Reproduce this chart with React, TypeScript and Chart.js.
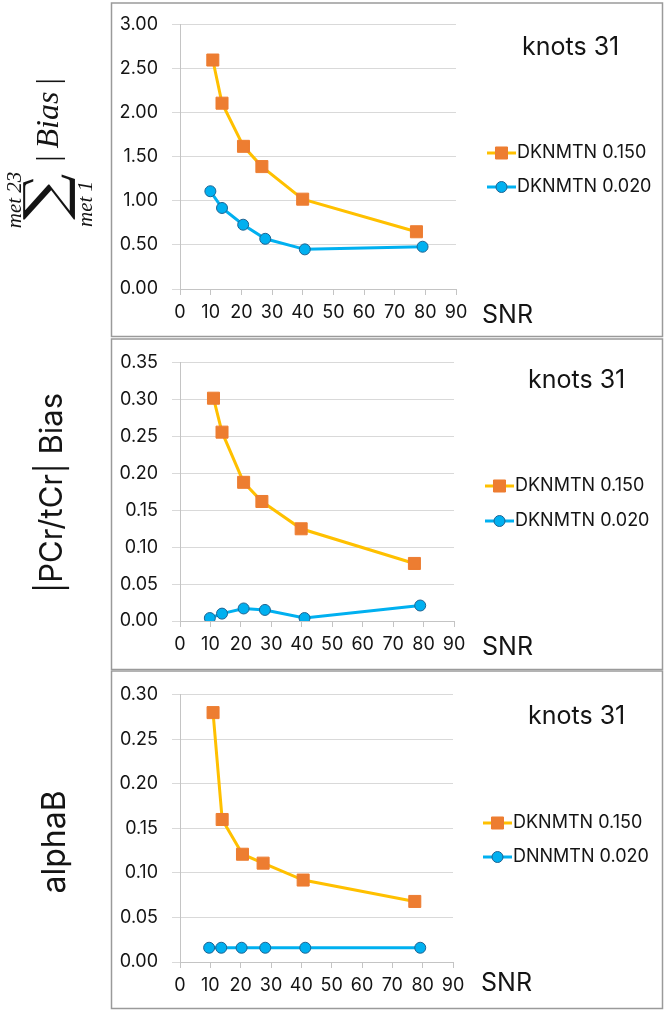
import React, { useEffect, useRef } from 'react';
import { Chart, registerables } from 'chart.js';
Chart.register(...registerables);

// ---------------- data ----------------
const X_LABEL = 'SNR';
const PANEL_TAG = 'knots 31';
const NAME_A = 'DKNMTN 0.150';
const NAME_B = 'DKNMTN 0.020';
const NAME_B_P3 = 'DNNMTN 0.020';
const Y_TITLE_2 = '|PCr/tCr| Bias';
const Y_TITLE_3 = 'alphaB';

const xTickValues = [0, 10, 20, 30, 40, 50, 60, 70, 80, 90];

const p1SnrA = [10.7, 13.7, 20.7, 26.7, 40.0, 77.1];
const p1ValA = [2.6, 2.11, 1.62, 1.39, 1.02, 0.65];
const p1SnrB = [9.9, 13.7, 20.6, 27.8, 40.7, 79.1];
const p1ValB = [1.11, 0.92, 0.73, 0.57, 0.45, 0.48];
const p1YTicks = [0, 0.5, 1.0, 1.5, 2.0, 2.5, 3.0];

const p2SnrA = [11.0, 13.8, 20.9, 26.9, 39.8, 77.0];
const p2ValA = [0.302, 0.256, 0.188, 0.162, 0.125, 0.078];
const p2SnrB = [9.8, 13.8, 20.9, 27.9, 40.9, 78.9];
const p2ValB = [0.004, 0.01, 0.017, 0.015, 0.004, 0.021];
const p2YTicks = [0, 0.05, 0.1, 0.15, 0.2, 0.25, 0.3, 0.35];

const p3SnrA = [10.9, 13.9, 20.6, 27.4, 40.6, 77.4];
const p3ValA = [0.28, 0.16, 0.121, 0.111, 0.092, 0.068];
const p3SnrB = [9.6, 13.6, 20.3, 28.1, 41.3, 79.2];
const p3ValB = [0.016, 0.016, 0.016, 0.016, 0.016, 0.016];
const p3YTicks = [0, 0.05, 0.1, 0.15, 0.2, 0.25, 0.3];

// ---------------- styles ----------------
const FONT = 'Inter, "Open Sans", sans-serif';
const SERIF = '"Liberation Serif", "DejaVu Serif", serif';
const TEXT = '#141414';
const ORANGE_LINE = '#FFC000';
const ORANGE_MARK = '#ED7D31';
const BLUE = '#00B0F0';
const BLUE_EDGE = '#1F6391';
const GRID = '#d9d9d9';
const AXIS = '#c4c4c4';
const BOX = '#9a9a9a';

const zip = (xs: number[], ys: number[]) => xs.map((x, i) => ({ x, y: ys[i] }));

type PanelCfg = {
  top: number;
  height: number;
  padTop: number;
  padRight: number;
  boxTop: number;
  boxBottom: number;
  tagX: number;
  tagY: number;
  snrX: number;
  snrY: number;
  legX: number;
  legY: number[];
  yMax: number;
  yTicks: number[];
  a: { x: number; y: number }[];
  b: { x: number; y: number }[];
  nameB: string;
  yTitle: (ctx: CanvasRenderingContext2D) => void;
};

function drawFormula(ctx: CanvasRenderingContext2D) {
  ctx.save();
  const Y0 = 240;
  ctx.translate(0, Y0);
  ctx.rotate(-Math.PI / 2);
  ctx.fillStyle = TEXT;
  ctx.textBaseline = 'alphabetic';
  // big sigma
  const sig = '\u2211';
  let fs = 50;
  ctx.font = `${fs}px "DejaVu Serif", serif`;
  let m = ctx.measureText(sig);
  let h = m.actualBoundingBoxAscent + m.actualBoundingBoxDescent;
  fs = (fs * 52) / h;
  ctx.font = `${fs}px "DejaVu Serif", serif`;
  m = ctx.measureText(sig);
  const w = m.actualBoundingBoxLeft + m.actualBoundingBoxRight;
  ctx.save();
  ctx.translate(20, 23);
  ctx.scale(46 / w, 1);
  ctx.textAlign = 'left';
  ctx.fillText(sig, m.actualBoundingBoxLeft, m.actualBoundingBoxAscent);
  ctx.restore();
  // limits
  ctx.font = `italic 21px ${SERIF}`;
  ctx.textAlign = 'center';
  ctx.fillText('met 23', 40, 21);
  ctx.fillText('met 1', 36, 92);
  // |Bias|
  ctx.textAlign = 'left';
  const bar = '|';
  ctx.font = `32px ${SERIF}`;
  const bw = ctx.measureText(bar).width;
  ctx.font = `italic 32px ${SERIF}`;
  const biasW = ctx.measureText('Bias').width;
  const gap = 7;
  const total = bw * 2 + gap * 2 + biasW;
  let u = 120 - total / 2;
  ctx.font = `32px ${SERIF}`;
  ctx.fillText(bar, u, 58);
  u += bw + gap;
  ctx.font = `italic 32px ${SERIF}`;
  ctx.fillText('Bias', u, 58);
  u += biasW + gap;
  ctx.font = `32px ${SERIF}`;
  ctx.fillText(bar, u, 58);
  ctx.restore();
}

function rotatedTitle(text: string, cx: number, cy: number, size: number) {
  return (ctx: CanvasRenderingContext2D) => {
    ctx.save();
    ctx.translate(cx, cy);
    ctx.rotate(-Math.PI / 2);
    ctx.font = `${size}px ${FONT}`;
    ctx.fillStyle = TEXT;
    ctx.textAlign = 'center';
    ctx.textBaseline = 'alphabetic';
    ctx.fillText(text, 0, 0);
    ctx.restore();
  };
}

const panels: PanelCfg[] = [
  {
    top: 0, height: 338, padTop: 23, padRight: 209, boxTop: 3, boxBottom: 336.5,
    tagX: 522, tagY: 47, snrX: 482, snrY: 315, legX: 487, legY: [153, 187],
    yMax: 3, yTicks: p1YTicks, a: zip(p1SnrA, p1ValA), b: zip(p1SnrB, p1ValB), nameB: NAME_B,
    yTitle: drawFormula,
  },
  {
    top: 338, height: 332, padTop: 19, padRight: 211, boxTop: 1, boxBottom: 331.5,
    tagX: 528, tagY: 42, snrX: 482, snrY: 309, legX: 485, legY: [148, 183],
    yMax: 0.35, yTicks: p2YTicks, a: zip(p2SnrA, p2ValA), b: zip(p2SnrB, p2ValB), nameB: NAME_B,
    yTitle: rotatedTitle(Y_TITLE_2, 62, 155, 31),
  },
  {
    top: 670, height: 341, padTop: 21, padRight: 212, boxTop: 1, boxBottom: 338.5,
    tagX: 528, tagY: 46, snrX: 481, snrY: 313, legX: 483, legY: [153, 187],
    yMax: 0.3, yTicks: p3YTicks, a: zip(p3SnrA, p3ValA), b: zip(p3SnrB, p3ValB), nameB: NAME_B_P3,
    yTitle: rotatedTitle(Y_TITLE_3, 65, 172, 32),
  },
];

function Panel({ cfg }: { cfg: PanelCfg }) {
  const ref = useRef<HTMLCanvasElement | null>(null);
  useEffect(() => {
    if (!ref.current) return;
    const decor = {
      id: 'decor',
      afterDraw(chart: any) {
        const ctx: CanvasRenderingContext2D = chart.ctx;
        ctx.save();
        // box
        ctx.strokeStyle = BOX;
        ctx.lineWidth = 1.5;
        ctx.strokeRect(111.5, cfg.boxTop, 551, cfg.boxBottom - cfg.boxTop);
        // tag
        ctx.fillStyle = TEXT;
        ctx.textAlign = 'left';
        ctx.textBaseline = 'middle';
        ctx.font = `25px ${FONT}`;
        ctx.fillText(PANEL_TAG, cfg.tagX, cfg.tagY);
        // axis title
        ctx.font = `25px ${FONT}`;
        ctx.fillText(X_LABEL, cfg.snrX, cfg.snrY);
        // legend
        chart.data.datasets.forEach((ds: any, i: number) => {
          const y = cfg.legY[i];
          const x0 = cfg.legX;
          const x1 = x0 + 29;
          const mx = (x0 + x1) / 2;
          ctx.strokeStyle = ds.borderColor;
          ctx.lineWidth = ds.borderWidth;
          ctx.beginPath();
          ctx.moveTo(x0, y);
          ctx.lineTo(x1, y);
          ctx.stroke();
          ctx.fillStyle = ds.pointBackgroundColor;
          ctx.strokeStyle = ds.pointBorderColor;
          ctx.lineWidth = ds.pointBorderWidth;
          ctx.beginPath();
          if (ds.pointStyle === 'rect') {
            const s = Math.SQRT1_2 * ds.pointRadius;
            ctx.rect(mx - s, y - s, 2 * s, 2 * s);
          } else {
            ctx.arc(mx, y, ds.pointRadius, 0, Math.PI * 2);
          }
          ctx.fill();
          ctx.stroke();
          ctx.fillStyle = TEXT;
          ctx.font = `18px ${FONT}`;
          ctx.textBaseline = 'middle';
          ctx.fillText(ds.label, x1 + 1, y);
        });
        // y title
        cfg.yTitle(ctx);
        ctx.restore();
      },
    };
    const chart = new Chart(ref.current, {
      type: 'scatter',
      data: {
        datasets: [
          {
            label: NAME_A,
            data: cfg.a,
            showLine: true,
            borderColor: ORANGE_LINE,
            borderWidth: 3,
            pointStyle: 'rect',
            pointRadius: 8.5,
            pointBackgroundColor: ORANGE_MARK,
            pointBorderColor: ORANGE_MARK,
            pointBorderWidth: 1,
          },
          {
            label: cfg.nameB,
            data: cfg.b,
            showLine: true,
            borderColor: BLUE,
            borderWidth: 3,
            pointStyle: 'circle',
            pointRadius: 5.5,
            pointBackgroundColor: BLUE,
            pointBorderColor: BLUE_EDGE,
            pointBorderWidth: 1,
          },
        ] as any,
      },
      options: {
        animation: false,
        responsive: false,
        devicePixelRatio: 1,
        layout: { padding: { left: 111, right: cfg.padRight, top: cfg.padTop, bottom: 9 } },
        plugins: { legend: { display: false }, tooltip: { enabled: false } },
        scales: {
          x: {
            type: 'linear',
            min: 0,
            max: 90,
            afterBuildTicks: (s: any) => {
              s.ticks = xTickValues.map((v) => ({ value: v }));
            },
            afterFit: (s: any) => {
              s.height = 40;
            },
            ticks: {
              font: { family: FONT, size: 18 },
              color: TEXT,
              padding: 7,
              maxRotation: 0,
              autoSkip: false,
            },
            grid: { drawOnChartArea: false, drawTicks: true, tickLength: 6, color: AXIS },
            border: { display: true, color: AXIS, width: 1 },
          },
          y: {
            type: 'linear',
            min: 0,
            max: cfg.yMax,
            afterBuildTicks: (s: any) => {
              s.ticks = cfg.yTicks.map((v) => ({ value: v }));
            },
            afterFit: (s: any) => {
              s.width = 69;
            },
            ticks: {
              font: { family: FONT, size: 18 },
              color: TEXT,
              padding: 14,
              callback: (v: any) => Number(v).toFixed(2),
            },
            grid: { color: GRID, tickLength: 8, drawTicks: true },
            border: { display: true, color: AXIS, width: 1 },
          },
        },
      } as any,
      plugins: [decor],
    });
    return () => chart.destroy();
  }, [cfg]);
  return (
    <canvas
      ref={ref}
      width={665}
      height={cfg.height}
      style={{ position: 'absolute', left: 0, top: cfg.top, width: 665, height: cfg.height }}
    />
  );
}

export default function App() {
  return (
    <div style={{ position: 'absolute', left: 0, top: 0, width: 665, height: 1013, background: '#fff' }}>
      {panels.map((p, i) => (
        <Panel key={i} cfg={p} />
      ))}
    </div>
  );
}
